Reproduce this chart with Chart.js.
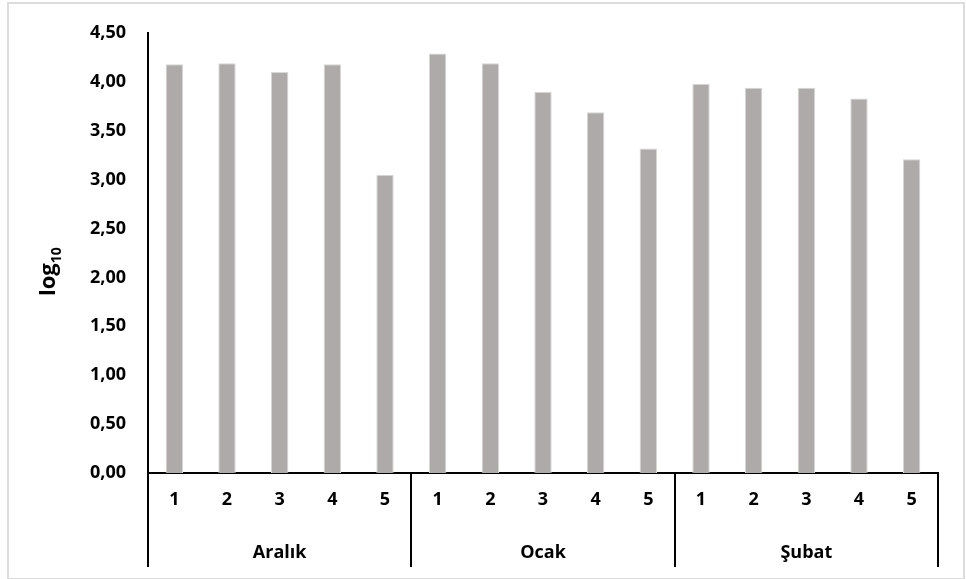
<!DOCTYPE html>
<html>
<head>
<meta charset="utf-8">
<script src="https://cdn.jsdelivr.net/npm/chart.js@4/dist/chart.umd.min.js"></script>
<style>
    body { margin: 0; background: #fff; }
    #frame { position: absolute; left: 7px; top: 2px; width: 954px; height: 574px; border: 2px solid #dcdcdc; }
    #chart { position: absolute; left: 0; top: 0; }
</style>
</head>
<body>
<div id="frame"></div>
<canvas id="chart" width="966" height="579"></canvas>
<script>
    const months = ["Aralık", "Ocak", "Şubat"];
    const stations = ["1", "2", "3", "4", "5"];
    const aralik = [4.18, 4.19, 4.10, 4.18, 3.05];
    const ocak = [4.29, 4.19, 3.90, 3.69, 3.32];
    const subat = [3.98, 3.94, 3.94, 3.83, 3.21];
    const yTicks = [0, 0.5, 1, 1.5, 2, 2.5, 3, 3.5, 4, 4.5];

    const FONT = "'Open Sans'";
    const labels = [];
    months.forEach(() => stations.forEach(s => labels.push(s)));
    const values = aralik.concat(ocak, subat);

    // separators between months + month names + y title
    const groupPlugin = {
        id: "groups",
        afterDraw(chart) {
            const ctx = chart.ctx;
            const x = chart.scales.x;
            const area = chart.chartArea;
            const step = x.width / labels.length;
            ctx.save();
            ctx.strokeStyle = "#000";
            ctx.lineWidth = 2;
            for (let g = 0; g <= months.length; g++) {
                const px = Math.round(x.left + step * stations.length * g);
                ctx.beginPath();
                ctx.moveTo(px, area.bottom);
                ctx.lineTo(px, area.bottom + 94);
                ctx.stroke();
            }
            ctx.fillStyle = "#000";
            ctx.font = "bold 18px " + FONT;
            ctx.textAlign = "center";
            ctx.textBaseline = "middle";
            months.forEach((m, g) => {
                const cx = x.left + step * stations.length * (g + 0.5);
                ctx.fillText(m, cx, area.bottom + 80);
            });

            // y title: log with subscript 10
            ctx.translate(55, 296);
            ctx.rotate(-Math.PI / 2);
            ctx.textAlign = "left";
            ctx.textBaseline = "alphabetic";
            ctx.font = "bold 22px " + FONT;
            ctx.fillText("log", 0, 0);
            const w = ctx.measureText("log").width;
            ctx.font = "bold 14px " + FONT;
            ctx.fillText("10", w, 6);
            ctx.restore();
        }
    };

    new Chart(document.getElementById("chart"), {
        type: "bar",
        data: {
            labels: labels,
            datasets: [{
                data: values,
                backgroundColor: "#aeaaaa",
                borderColor: "#d9d7d7",
                borderWidth: 1,
                categoryPercentage: 1,
                barPercentage: 0.33
            }]
        },
        options: {
            responsive: false,
            animation: false,
            layout: { padding: { top: 33, right: 28, left: 0, bottom: 0 } },
            plugins: {
                legend: { display: false },
                tooltip: { enabled: false }
            },
            scales: {
                x: {
                    grid: { display: false, drawTicks: false },
                    border: { display: true, color: "#000", width: 2 },
                    ticks: {
                        color: "#000",
                        padding: 16,
                        maxRotation: 0,
                        autoSkip: false,
                        font: { family: FONT, size: 18, weight: "bold" }
                    },
                    afterFit(scale) { scale.height = 106; }
                },
                y: {
                    min: 0,
                    max: 4.5,
                    afterBuildTicks(scale) { scale.ticks = yTicks.map(v => ({ value: v })); },
                    grid: { display: false, drawTicks: false },
                    border: { display: true, color: "#000", width: 2 },
                    ticks: {
                        color: "#000",
                        padding: 22,
                        font: { family: FONT, size: 18, weight: "bold" },
                        callback: v => v.toFixed(2).replace(".", ",")
                    },
                    afterFit(scale) { scale.width = 148; }
                }
            }
        },
        plugins: [groupPlugin]
    });
</script>
</body>
</html>
